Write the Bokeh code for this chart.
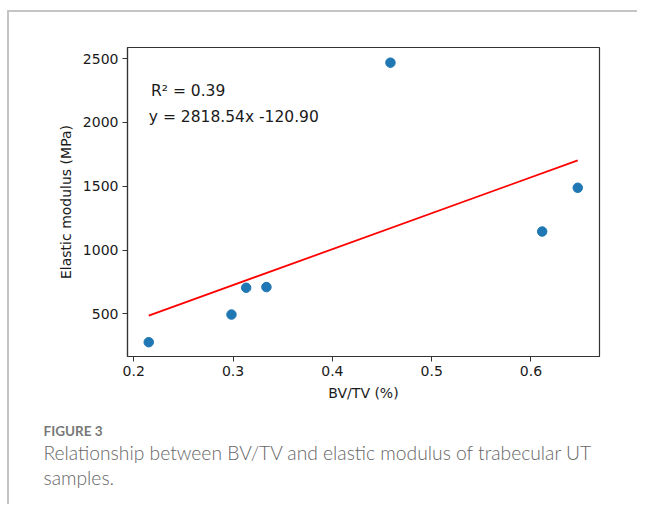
from bokeh.plotting import figure
from bokeh.models import Label, Range1d, FixedTicker, Title
from bokeh.embed import file_html
from bokeh.resources import INLINE

# data
bv_tv = [0.2151, 0.2984, 0.3132, 0.3336, 0.4585, 0.6113, 0.6471]
elastic_modulus = [277, 494, 704, 709, 2469, 1145, 1488]
slope = 2818.54
intercept = -120.90
r_squared = 0.39
x_ticks = [0.2, 0.3, 0.4, 0.5, 0.6]
y_ticks = [500, 1000, 1500, 2000, 2500]

FONT = "DejaVu Sans"
CAP_FONT = "Lato Light"

p = figure(width=630, height=494, output_backend="svg", toolbar_location=None,
           x_range=Range1d(0.1937, 0.669), y_range=Range1d(165, 2588),
           min_border_left=118, min_border_right=40, min_border_top=35,
           min_border_bottom=150)
p.styles = {"margin-top": "10px", "margin-left": "7px",
            "border-top": "2px solid #c4c4c4",
            "border-left": "2px solid #c4c4c4"}
p.background_fill_color = "white"
p.border_fill_color = "white"
p.outline_line_color = "#333333"
p.outline_line_width = 1.2
p.grid.visible = False

for ax in (p.xaxis[0], p.yaxis[0]):
    ax.axis_line_color = "#333333"
    ax.axis_line_width = 1.2
    ax.major_tick_line_color = "#333333"
    ax.major_tick_out = 5
    ax.major_tick_in = 0
    ax.minor_tick_line_color = None
    ax.major_label_text_font = FONT
    ax.major_label_text_font_size = "14px"
    ax.major_label_text_color = "#1a1a1a"
    ax.axis_label_text_font = FONT
    ax.axis_label_text_font_size = "14px"
    ax.axis_label_text_font_style = "normal"
    ax.axis_label_text_color = "#1a1a1a"
    ax.major_label_standoff = 4

p.xaxis.ticker = FixedTicker(ticks=x_ticks)
p.yaxis.ticker = FixedTicker(ticks=y_ticks)
p.xaxis.axis_label = "BV/TV (%)"
p.yaxis.axis_label = "Elastic modulus (MPa)"
p.xaxis.axis_label_standoff = 6
p.yaxis.axis_label_standoff = 6

x0, x1 = min(bv_tv), max(bv_tv)
p.line([x0, x1], [slope * x0 + intercept, slope * x1 + intercept],
       line_color="red", line_width=1.8)
p.scatter(bv_tv, elastic_modulus, size=9.5, fill_color="#1f77b4",
          line_color="#1f77b4")

p.add_layout(Label(x=23.5, y=266, x_units="screen", y_units="screen",
                   text=f"R\u00b2 = {r_squared:.2f}", text_font=FONT,
                   text_font_size="15.5px", text_baseline="middle",
                   text_color="#1a1a1a"))
p.add_layout(Label(x=21.3, y=239.3, x_units="screen", y_units="screen",
                   text=f"y = {slope:.2f}x {intercept:.2f}", text_font=FONT,
                   text_font_size="15.5px", text_baseline="middle",
                   text_color="#1a1a1a"))

# caption (side-panel titles, not clipped to the frame)
p.add_layout(Title(text=" ", align="left", standoff=14,
                   text_font="Lato", text_font_size="1px"), "below")
p.add_layout(Title(text="FIGURE 3", align="left", offset=-84, standoff=0,
                   text_font="Lato", text_font_style="bold",
                   text_font_size="13.5px", text_color="#787878"), "below")
p.add_layout(Title(text="Relationship between BV/TV and elastic modulus of trabecular UT",
                   align="left", offset=-84, standoff=0,
                   text_font=CAP_FONT, text_font_style="normal",
                   text_font_size="19.25px", text_color="#666666"), "below")
p.add_layout(Title(text="samples.", align="left", offset=-84, standoff=0,
                   text_font=CAP_FONT, text_font_style="normal",
                   text_font_size="19.25px", text_color="#666666"), "below")

open("out.html", "w").write(file_html(p, INLINE))
